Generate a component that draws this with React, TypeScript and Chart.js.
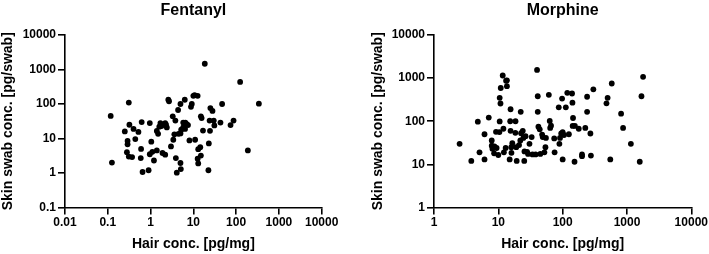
import React, { useEffect, useRef } from "react";
import { Chart, registerables } from "chart.js";
Chart.register(...registerables);

// ---------- Data ----------
const fentanylHair = [
  0.117, 0.125, 0.31, 0.25, 0.32, 0.4, 0.29, 0.29, 0.28, 0.31,
  0.37, 0.44, 0.52, 0.62, 0.6, 0.59, 0.65, 0.9, 0.96, 1.04,
  0.96, 1.1, 1.2, 1.4, 1.4, 1.5, 1.6, 1.7, 1.8, 1.9,
  2.2, 2.4, 2.3, 2.2, 2.6, 2.7, 3.0, 3.3, 3.8, 3.4,
  3.6, 3.9, 4.1, 4.4, 4.5, 5.0, 5.0, 5.1, 5.2, 5.0,
  5.8, 6.3, 5.8, 6.5, 7.0, 7.5, 6.4, 8.1, 8.8, 9.2,
  10, 10.7, 12.6, 11, 13, 12.6, 13, 14.5, 15, 15,
  15.6, 16.8, 18.5, 23, 22.5, 24, 24.5, 25, 28, 30,
  31, 43, 47, 74, 87, 124, 188, 340,
];
const fentanylSwab = [
  45, 2.0, 110, 16, 25, 19, 8.5, 6.8, 4.0, 3.0,
  2.9, 9.6, 15.5, 30, 5.0, 2.7, 1.07, 1.2, 28, 8.1,
  3.5, 4.1, 2.3, 4.5, 16.5, 13.7, 22, 28, 23, 3.8,
  28, 21, 25, 3.4, 133, 120, 5.9, 44, 33, 9.2,
  13.2, 2.7, 1.02, 67, 13.7, 100, 1.95, 1.3, 18, 14,
  21, 133, 29, 29, 26, 24.5, 19, 8.8, 83, 100,
  173, 180, 173, 9.2, 4.9, 2.6, 1.9, 5.6, 3.2, 44,
  39, 17, 1470, 7.2, 1.2, 33, 16.7, 76, 63, 33,
  24, 29, 100, 24.5, 33, 435, 4.5, 102,
];

const morphineHair = [
  2.5, 3.8, 4.8, 5.1, 6.1, 6.1, 7.1, 7.9, 7.9, 8.1,
  8.6, 9.2, 8.7, 9.4, 10, 10.4, 10.5, 10.5, 10.8, 10.9,
  11.7, 12, 12.2, 13.2, 13.6, 13.6, 13, 15.5, 15.3, 15.5,
  15.9, 16, 15, 16.5, 18.5, 18.4, 19, 19.3, 21, 22,
  22.3, 22.6, 24, 24.5, 25.5, 25.3, 26.5, 28, 29, 30.5,
  33, 34, 38, 40, 41, 41, 42, 44, 45, 48,
  49, 52, 54, 55, 61, 63, 64, 66, 74, 75,
  87, 89, 91, 95, 98, 100, 100, 105, 112, 118,
  125, 140, 142, 145, 143, 153, 155, 178, 200, 200,
  225, 240, 240, 270, 275, 300, 480, 500, 550, 580,
  810, 870, 1150, 1580, 1680, 1780,
];
const morphineSwab = [
  30, 12, 98, 19, 50, 13, 122, 36, 27, 23,
  18, 57, 26, 24, 16.5, 56, 99, 350, 258, 590,
  1150, 67, 19, 870, 890, 650, 24, 190, 100, 60,
  25, 18.5, 13, 31, 100, 54, 25, 12, 28, 36,
  165, 53, 60, 41, 20, 12, 45, 19.5, 17.5, 30,
  43, 17, 17, 1550, 380, 165, 75, 65, 17.5, 49,
  43, 19, 25, 41, 410, 102, 70, 79, 40, 19,
  210, 30, 41, 52, 335, 13, 56, 48, 210, 455,
  50, 440, 270, 119, 78, 11.5, 78, 67, 17, 15.5,
  70, 370, 165, 52, 16, 550, 260, 350, 13, 750,
  150, 70, 30, 11.5, 380, 1070,
];

const fentanylXTicks = [0.01, 0.1, 1, 10, 100, 1000, 10000];
const fentanylYTicks = [0.1, 1, 10, 100, 1000, 10000];
const morphineXTicks = [1, 10, 100, 1000, 10000];
const morphineYTicks = [1, 10, 100, 1000, 10000];

const xTitle = "Hair conc. [pg/mg]";
const yTitle = "Skin swab conc. [pg/swab]";

// ---------- Chart ----------
const FONT = "'Liberation Sans', Arial, Helvetica, sans-serif";

type PanelProps = {
  title: string;
  xs: number[];
  ys: number[];
  xTicks: number[];
  yTicks: number[];
  width: number;
  padLeft: number;
  yAxisWidth: number;
  padRight: number;
};

function makeConfig(p: PanelProps): any {
  const points = p.xs.map((x, i) => ({ x, y: p.ys[i] }));
  const axisCommon = {
    type: "logarithmic",
    grid: {
      display: true,
      drawOnChartArea: false,
      drawTicks: true,
      tickLength: 7,
      color: "#000",
      lineWidth: 1.6,
    },
    border: { display: true, color: "#000", width: 1.6 },
  };
  return {
    type: "scatter",
    data: {
      datasets: [
        {
          data: points,
          backgroundColor: "#000",
          borderColor: "#000",
          borderWidth: 0,
          pointRadius: 2.9,
          pointHoverRadius: 2.9,
        },
      ],
    },
    options: {
      animation: false,
      responsive: false,
      devicePixelRatio: 1,
      events: [],
      layout: {
        padding: { top: 1, left: p.padLeft, right: p.padRight, bottom: 0 },
      },
      plugins: {
        legend: { display: false },
        tooltip: { enabled: false },
        title: {
          display: true,
          text: p.title,
          fullSize: false,
          color: "#000",
          font: { family: FONT, size: 16, weight: "bold", lineHeight: 1.2 },
          padding: { top: 0, bottom: 14.8 },
        },
      },
      scales: {
        x: {
          ...axisCommon,
          min: p.xTicks[0],
          max: p.xTicks[p.xTicks.length - 1],
          afterBuildTicks: (s: any) => {
            s.ticks = p.xTicks.map((v) => ({ value: v }));
          },
          afterFit: (s: any) => {
            s.height = 46.5;
          },
          ticks: {
            callback: (v: any) => String(v),
            color: "#000",
            font: { family: FONT, size: 12, weight: "bold" },
            padding: 1,
            maxRotation: 0,
            autoSkip: false,
          },
          title: {
            display: true,
            text: xTitle,
            color: "#000",
            font: { family: FONT, size: 14, weight: "bold", lineHeight: 1.2 },
            padding: { top: 0, bottom: 1 },
          },
        },
        y: {
          ...axisCommon,
          min: p.yTicks[0],
          max: p.yTicks[p.yTicks.length - 1],
          afterBuildTicks: (s: any) => {
            s.ticks = p.yTicks.map((v) => ({ value: v }));
          },
          afterFit: (s: any) => {
            s.width = p.yAxisWidth;
          },
          ticks: {
            callback: (v: any) => String(v),
            color: "#000",
            font: { family: FONT, size: 12, weight: "bold" },
            padding: 2,
            autoSkip: false,
          },
          title: {
            display: true,
            text: yTitle,
            color: "#000",
            font: { family: FONT, size: 14, weight: "bold", lineHeight: 1.2 },
            padding: { top: 0, bottom: 0 },
          },
        },
      },
    },
  };
}

function Panel(p: PanelProps) {
  const ref = useRef<HTMLCanvasElement | null>(null);
  useEffect(() => {
    if (!ref.current) return;
    const chart = new Chart(ref.current, makeConfig(p));
    return () => chart.destroy();
  }, []);
  return (
    <canvas
      ref={ref}
      width={p.width}
      height={254}
      style={{ display: "block", width: p.width, height: 254 }}
    />
  );
}

export default function App() {
  return (
    <div
      style={{
        position: "fixed",
        left: 0,
        top: 0,
        width: 709,
        height: 254,
        display: "flex",
        background: "#fff",
      }}
    >
      <Panel
        title="Fentanyl"
        xs={fentanylHair}
        ys={fentanylSwab}
        xTicks={fentanylXTicks}
        yTicks={fentanylYTicks}
        width={354}
        padLeft={0}
        yAxisWidth={65}
        padRight={32.3}
      />
      <Panel
        title="Morphine"
        xs={morphineHair}
        ys={morphineSwab}
        xTicks={morphineXTicks}
        yTicks={morphineYTicks}
        width={355}
        padLeft={16}
        yAxisWidth={64}
        padRight={17.7}
      />
    </div>
  );
}
